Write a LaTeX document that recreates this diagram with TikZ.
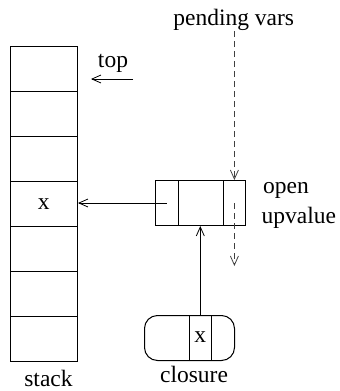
\documentclass[tikz,border=0pt]{standalone}
\usepackage{fontspec}
\setmainfont{Liberation Serif}
\usetikzlibrary{arrows.meta}
\begin{document}
\begin{tikzpicture}[x=1pt,y=-1pt,
  cell/.style={draw, line width=1pt, minimum width=67.5pt, minimum height=45pt, inner sep=0pt, anchor=north west},
  lbl/.style={font=\fontsize{23.5}{28}\selectfont, inner sep=0pt, anchor=base},
  arr/.style={-{Straight Barb[length=9pt,width=8pt]}, line width=0.8pt},
  dsh/.style={arr, draw=black!75, dash pattern=on 6pt off 4pt}]
\useasboundingbox (0,0) rectangle (340,391);
% stack
\foreach \i in {0,...,6} {\node[cell] (s\i) at (9.5,{46+45*\i}) {};}
\node[lbl, anchor=center] (sx) at (s3.center) {x};
\node[lbl] (stk) at (48.5,386.5) {stack};
% top
\node[lbl] (top) at (113,67) {top};
\coordinate (tA) at (133,79);
\coordinate (tB) at (91,79);
\draw[arr] (tA) -- (tB);
% open upvalue
\node[cell, minimum width=22.5pt] (u1) at (155,180) {};
\node[cell, minimum width=45pt] (u2) at (177.5,180) {};
\node[cell, minimum width=22.8pt] (u3) at (222.5,180) {};
\node[lbl, anchor=base west] (op) at (263,193) {open};
\node[lbl, anchor=base west] (uv) at (261.5,223) {upvalue};
\draw[arr] (u1.center) -- (u1.center -| s3.east);
% pending vars
\node[lbl] (pv) at (233.7,25) {pending vars};
\coordinate (pvs) at (u3.north |- 0,31);
\draw[dsh] (pvs) -- (u3.north);
\coordinate (nx) at (u3.center |- 0,266);
\draw[dsh] (u3.center) -- (nx);
% closure
\node[draw, line width=1pt, rounded corners=13pt, minimum width=90pt, minimum height=45pt, inner sep=0pt, anchor=north west] (cl) at (144,315) {};
\draw[line width=1pt] ([xshift=45.3pt]cl.north west) -- ([xshift=45.3pt]cl.south west);
\draw[line width=1pt] ([xshift=67.3pt]cl.north west) -- ([xshift=67.3pt]cl.south west);
\node[lbl, anchor=center] (cx) at (200.3,337.5) {x};
\node[lbl] (clo) at (194,382.5) {closure};
\draw[arr] (cx |- cl.north) -- (cx |- u2.south);
\end{tikzpicture}
\end{document}
